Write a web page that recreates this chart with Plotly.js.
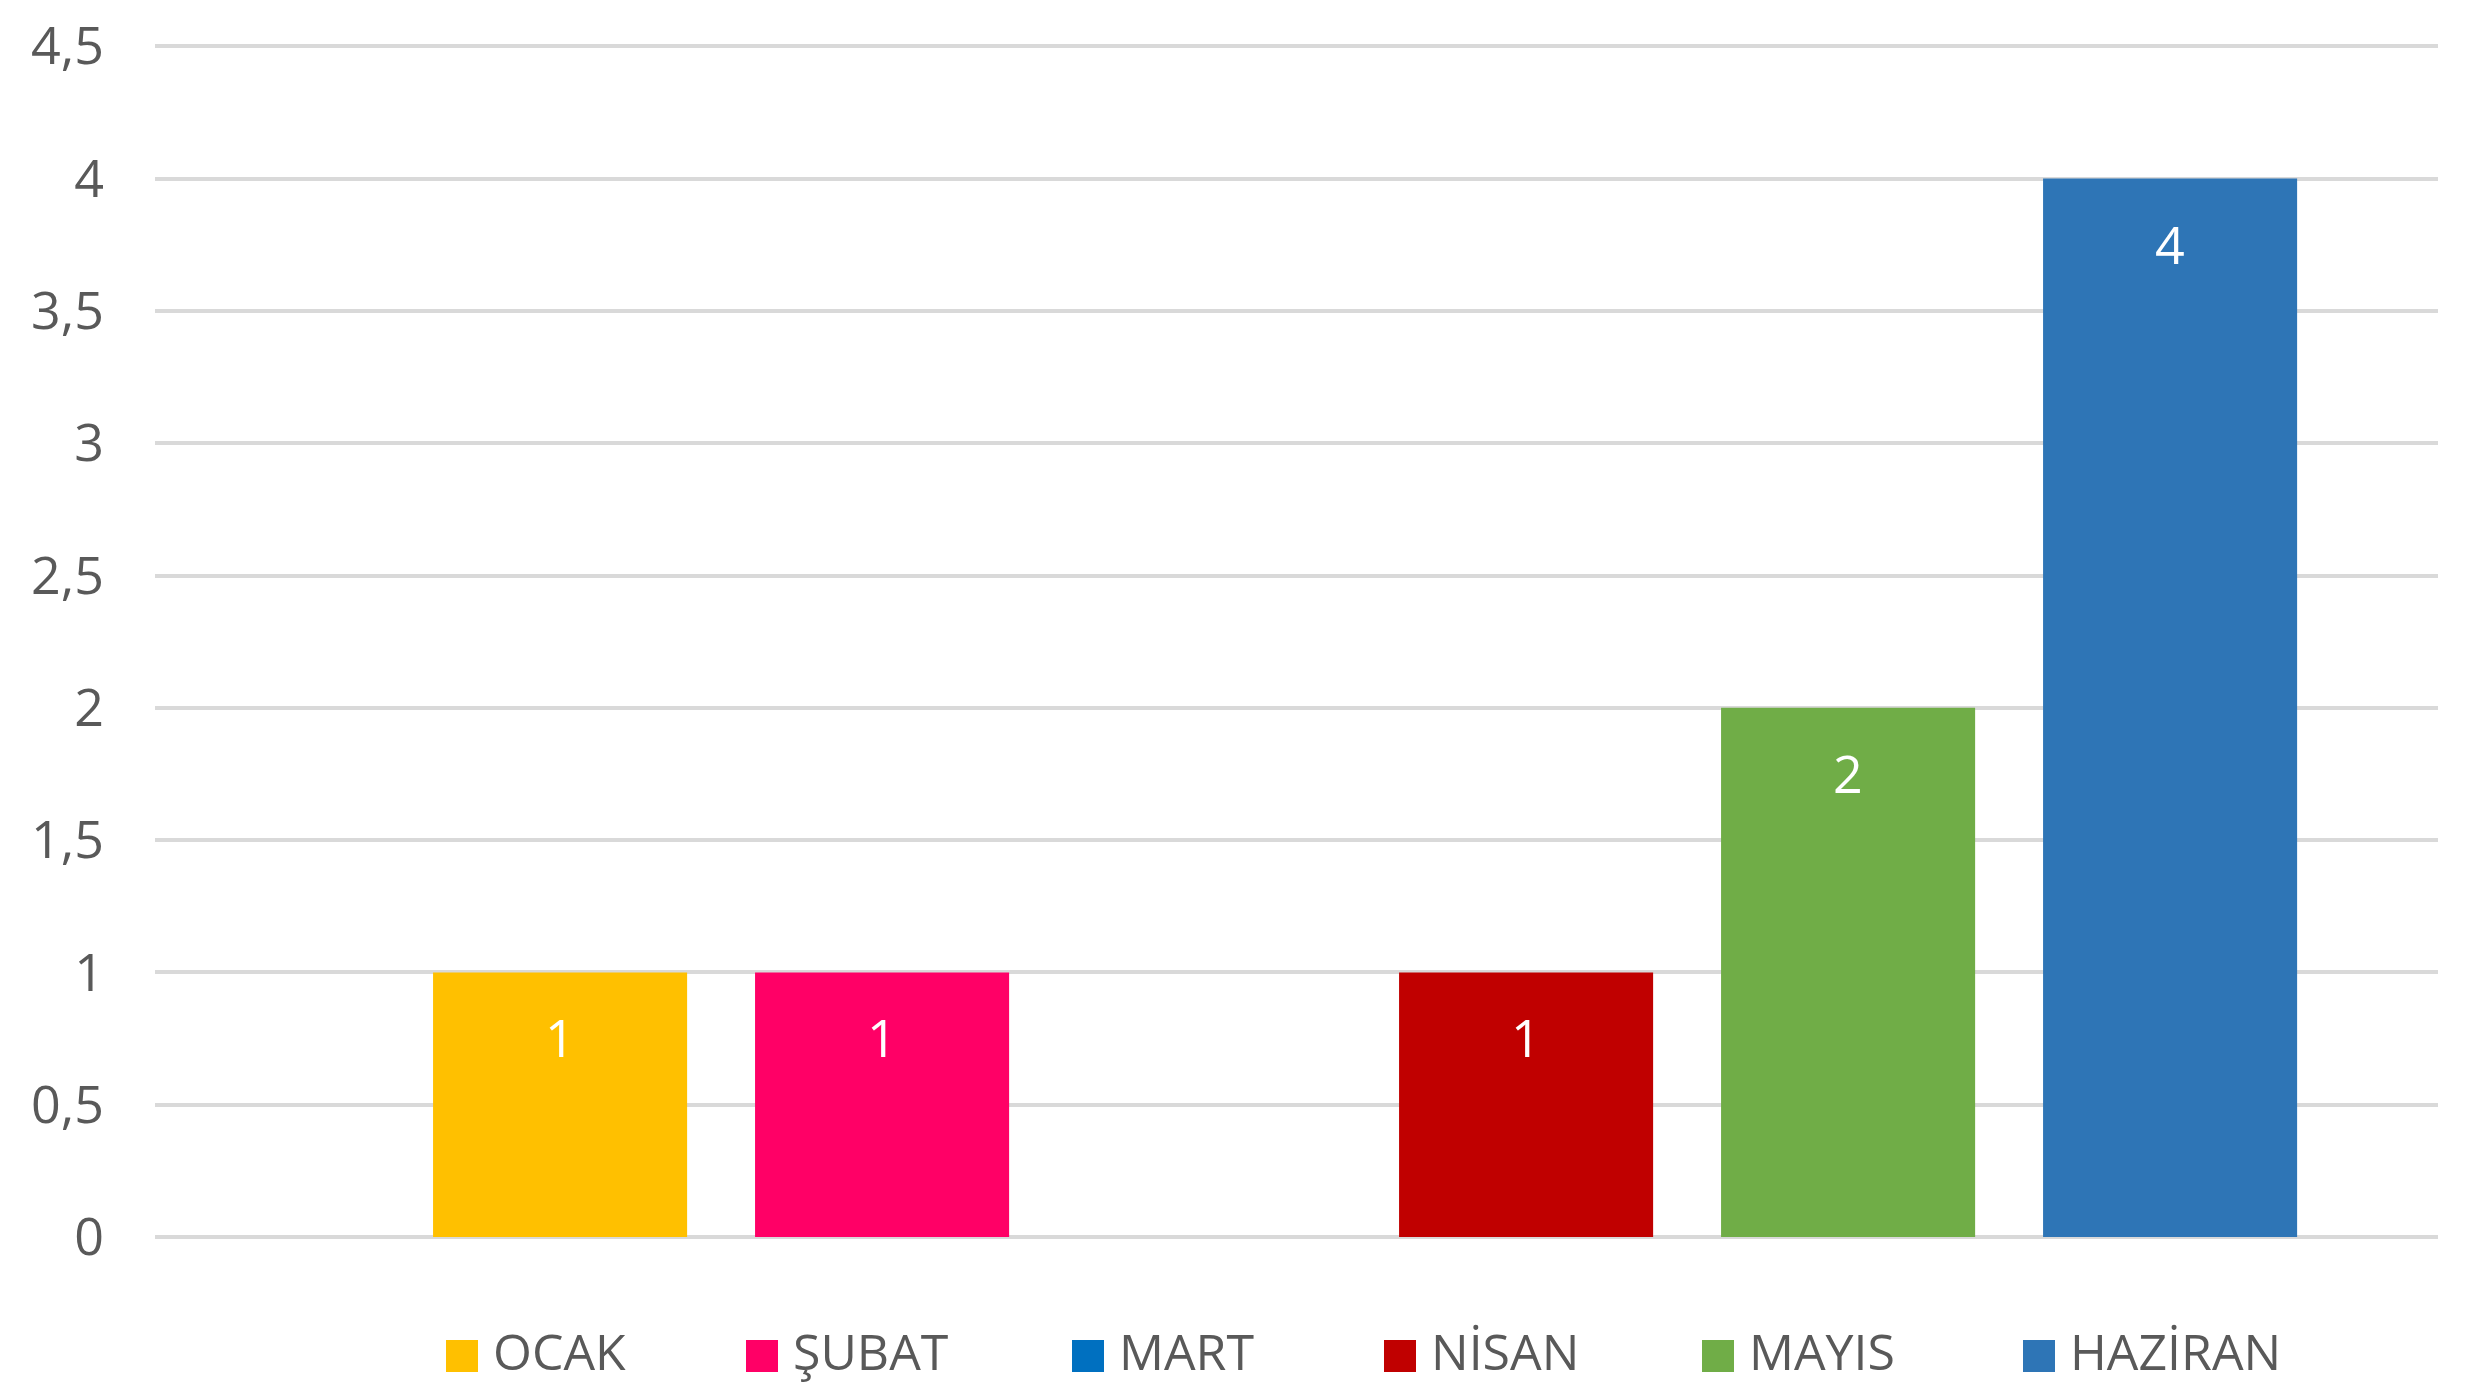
<!DOCTYPE html>
<html>
<head>
<meta charset="utf-8">
<script src="https://cdn.plot.ly/plotly-3.0.1.min.js"></script>
<style>
  html, body { margin: 0; padding: 0; background: #ffffff; }
  #chart { width: 2480px; height: 1387px; }
</style>
</head>
<body>
<div id="chart"></div>
<script>
// ---- data ----
const categories = ['OCAK', 'ŞUBAT', 'MART', 'NİSAN', 'MAYIS', 'HAZİRAN'];
const values = [1, 1, 0, 1, 2, 4];
const tickValues = [0, 0.5, 1, 1.5, 2, 2.5, 3, 3.5, 4, 4.5];
const tickLabels = ['0', '0,5', '1', '1,5', '2', '2,5', '3', '3,5', '4', '4,5'];

// ---- styles ----
const colors = ['#FFC000', '#FF0066', '#0070C0', '#C00000', '#70AD47', '#2E75B6'];
const FONT = 'Open Sans, Noto Sans, sans-serif';
const FONT_SIZE = 52;
const LEGEND_FONT_SIZE = 50;
const TEXT_COLOR = '#595959';

// ---- layout geometry (pixels) ----
const W = 2480, H = 1387;
const plotL = 155, plotR = 2438, plotT = 41, plotB = 1237;
const yMax = 4.52;
const plotW = plotR - plotL, plotH = plotB - plotT;
const legendSquareX = [446, 746, 1072, 1384, 1702, 2023];
const legendSquareTop = 1340, legendSquareSize = 32, legendTextGap = 46, legendTextY = 1351;

const px2paperX = p => (p - plotL) / plotW;
const px2paperY = p => (plotB - p) / plotH;

const traces = categories.map((c, i) => ({
  type: 'bar',
  x: [c],
  y: [values[i]],
  name: c,
  marker: { color: colors[i] },
  showlegend: false,
  hoverinfo: 'none'
}));

// data labels (white, near top inside each bar), skip zero values
const annotations = [];
categories.forEach((c, i) => {
  if (values[i] > 0) {
    annotations.push({
      x: c, y: values[i], xref: 'x', yref: 'y',
      text: String(values[i]).replace('.', ','),
      showarrow: false, yanchor: 'top', xanchor: 'center', yshift: -27,
      font: { family: FONT, size: FONT_SIZE, color: '#ffffff' }
    });
  }
});

// custom legend (large squares like the original)
const shapes = [];
categories.forEach((c, i) => {
  shapes.push({
    type: 'rect', xref: 'paper', yref: 'paper',
    x0: px2paperX(legendSquareX[i]), x1: px2paperX(legendSquareX[i] + legendSquareSize),
    y0: px2paperY(legendSquareTop + legendSquareSize), y1: px2paperY(legendSquareTop),
    fillcolor: colors[i], line: { width: 0 }
  });
  annotations.push({
    xref: 'paper', yref: 'paper',
    x: px2paperX(legendSquareX[i] + legendTextGap), y: px2paperY(legendTextY),
    xanchor: 'left', yanchor: 'middle', showarrow: false,
    borderpad: 0,
    text: c,
    font: { family: FONT, size: LEGEND_FONT_SIZE, color: TEXT_COLOR }
  });
});

const layout = {
  width: W, height: H,
  margin: { l: plotL, r: W - plotR, t: plotT, b: H - plotB, pad: 0 },
  paper_bgcolor: '#ffffff',
  plot_bgcolor: '#ffffff',
  barmode: 'overlay',
  bargap: 0.211,
  showlegend: false,
  font: { family: FONT, size: FONT_SIZE, color: TEXT_COLOR },
  xaxis: {
    type: 'category',
    categoryorder: 'array',
    categoryarray: categories,
    range: [-1.258, 5.832],
    showticklabels: false,
    showgrid: false,
    zeroline: false,
    showline: false,
    ticks: ''
  },
  yaxis: {
    range: [0, yMax],
    tickmode: 'array',
    tickvals: tickValues,
    ticktext: tickLabels,
    showgrid: true,
    gridcolor: '#d9d9d9',
    gridwidth: 4,
    zeroline: true,
    zerolinecolor: '#d9d9d9',
    zerolinewidth: 4,
    showline: false,
    ticks: '',
    ticklabelstandoff: 50,
    tickfont: { family: FONT, size: FONT_SIZE, color: TEXT_COLOR }
  },
  annotations: annotations,
  shapes: shapes
};

Plotly.newPlot('chart', traces, layout, { staticPlot: true, displayModeBar: false });
</script>
</body>
</html>
